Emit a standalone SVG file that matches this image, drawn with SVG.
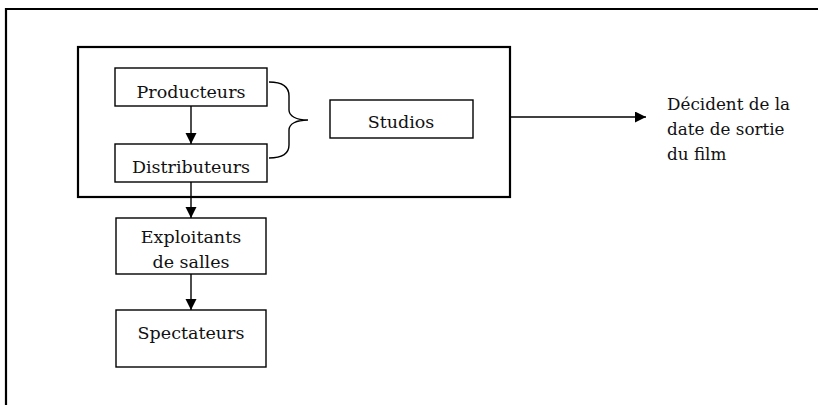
<svg xmlns="http://www.w3.org/2000/svg" width="818" height="405" viewBox="0 0 818 405">
<defs>
<marker id="ah" markerWidth="12" markerHeight="12" refX="11" refY="5.5" orient="auto" markerUnits="userSpaceOnUse">
<path d="M0,0 L11,5.5 L0,11 Z" fill="#000"/>
</marker>
<style>
.box{fill:#fff;stroke:#000;stroke-width:1.4}
.t{font-family:"DejaVu Serif","Liberation Serif",serif;font-size:17.5px;fill:#111}
.d{font-family:"DejaVu Serif","Liberation Serif",serif;font-size:16.8px;fill:#111}
.c{stroke:#000;stroke-width:1.4;fill:none}
</style>
</defs>
<rect width="818" height="405" fill="#fff"/>
<path d="M6,405 L6,9 L818,9" fill="none" stroke="#000" stroke-width="2.2"/>
<g id="studios-group">
<rect x="78" y="47" width="432" height="150" fill="none" stroke="#000" stroke-width="2.2"/>
</g>
<g id="producteurs">
<rect class="box" x="115" y="68" width="152" height="38"/>
<text class="t" x="191" y="98" text-anchor="middle">Producteurs</text>
</g>
<g id="distributeurs">
<rect class="box" x="115" y="144" width="152" height="38"/>
<text class="t" x="191" y="173" text-anchor="middle">Distributeurs</text>
</g>
<g id="studios">
<rect class="box" x="330" y="100" width="143" height="38"/>
<text class="t" x="401" y="128" text-anchor="middle">Studios</text>
</g>
<g id="exploitants">
<rect class="box" x="116" y="218" width="150" height="56"/>
<text class="t" x="191" y="243" text-anchor="middle">Exploitants</text>
<text class="t" x="191" y="268" text-anchor="middle">de salles</text>
</g>
<g id="spectateurs">
<rect class="box" x="116" y="310" width="150" height="57"/>
<text class="t" x="191" y="339" text-anchor="middle">Spectateurs</text>
</g>
<g id="decision">
<text class="d" x="667" y="110">Décident de la</text>
<text class="d" x="667" y="135">date de sortie</text>
<text class="d" x="667" y="160">du film</text>
</g>
<g id="connectors">
<line class="c" x1="191" y1="106" x2="191" y2="144" marker-end="url(#ah)"/>
<line class="c" x1="191" y1="182" x2="191" y2="218" marker-end="url(#ah)"/>
<line class="c" x1="191" y1="274" x2="191" y2="310" marker-end="url(#ah)"/>
<line class="c" x1="510" y1="117" x2="646" y2="117" marker-end="url(#ah)"/>
<path class="c" d="M269,82 C282,82 289,86 289,96 L289,110 C289,116 296,120 308,120 C296,120 289,124 289,130 L289,145 C289,154 282,158 269,158"/>
</g>
</svg>
